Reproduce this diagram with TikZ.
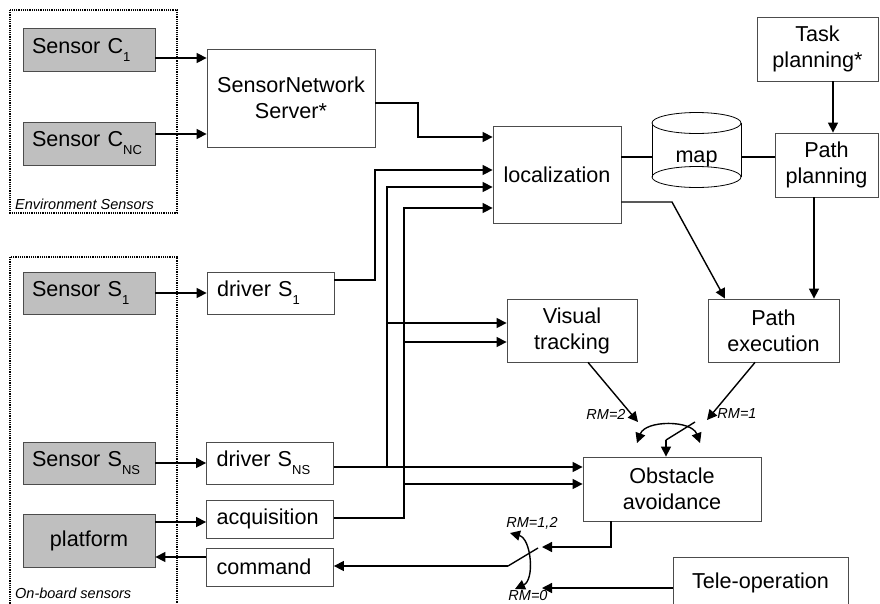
\documentclass[tikz,border=0pt]{standalone}
\usepackage{fontspec}
\setmainfont{Liberation Sans}
\usetikzlibrary{arrows.meta, positioning, calc}

\newcommand{\sidx}[1]{\raisebox{-8pt}{\fontsize{13}{13}\selectfont #1}}

\begin{document}
\begin{tikzpicture}[x=1pt, y=-1pt, font=\fontsize{21.6}{26}\selectfont,
    gbox/.style={draw=black!70, line width=0.8pt, fill=black!25, minimum height=43pt, text width=114pt, inner xsep=9pt, align=left},
    wbox/.style={draw=black!70, line width=0.8pt, fill=white, inner sep=0pt, align=center},
    drv/.style={wbox, text width=107pt, inner xsep=10pt, align=left, minimum height=42pt},
    grp/.style={densely dotted, line width=1.2pt},
    lbl/.style={font=\fontsize{14.5}{16}\selectfont\itshape, inner sep=1pt},
    conn/.style={line width=1.4pt},
    arr/.style={conn, -{Triangle[length=10pt, width=10pt]}},
    barr/.style={conn, {Triangle[length=10pt, width=10pt]}-{Triangle[length=10pt, width=10pt]}}]
    \useasboundingbox (0,0) rectangle (880,603);

    % sensor groups
    \draw[grp] (10,10) rectangle (177,213);
    \node[lbl, anchor=west] (envlbl) at (14,204) {Environment Sensors};
    \draw[grp] (10,257) rectangle (177,640);
    \node[lbl, anchor=west] (onblbl) at (14,593) {On-board sensors};

    \node[gbox] (c1) at (89,49.5) {Sensor C\sidx{1}};
    \node[gbox] (cnc) at (89,143.5) {Sensor C\sidx{NC}};
    \node[gbox, minimum height=42pt] (s1) at (89,293) {Sensor S\sidx{1}};
    \node[gbox, minimum height=42pt] (sn) at (89,463) {Sensor S\sidx{NS}};
    \node[gbox, align=center, minimum height=53pt] (plat) at (89,540.5) {platform};

    \node[wbox, minimum width=168pt, minimum height=98pt] (sns) at (291,98) {SensorNetwork\\Server*};
    \node[drv] (d1) at (270.5,293) {driver S\sidx{1}};
    \node[drv] (dn) at (270,463) {driver S\sidx{NS}};
    \node[drv, minimum height=38pt] (acq) at (270,519) {acquisition};
    \node[drv, minimum height=38pt] (cmd) at (270,567) {command};

    \node[wbox, minimum width=128pt, minimum height=97pt] (loc) at (557,174.5) {localization};
    \node[wbox, minimum width=121pt, minimum height=64pt] (tp) at (817.5,49) {Task\\planning*};
    \node[wbox, minimum width=103pt, minimum height=64pt] (pp) at (826.5,165) {Path\\planning};
    \node[wbox, minimum width=130pt, minimum height=63pt] (vt) at (572,330.5) {Visual\\tracking};
    \node[wbox, minimum width=131pt, minimum height=63pt] (pe) at (773.5,330.5) {Path\\execution};
    \node[wbox, minimum width=178pt, minimum height=64pt] (oa) at (672,489) {Obstacle\\avoidance};
    \node[wbox, minimum width=175pt, minimum height=52pt] (tel) at (760.5,583) {Tele-operation};

    % map store
    \draw[line width=0.8pt] (652,123) -- (652,177) (741,123) -- (741,177);
    \draw[line width=0.8pt, fill=white] (696.5,123) ellipse [x radius=44.5, y radius=10.5];
    \draw[line width=0.8pt] (696.5,177) ellipse [x radius=44.5, y radius=10.5];
    \node[minimum width=89pt, minimum height=64pt, inner sep=0pt] (map) at (696.5,159) {map};

    % junctions and switches
    \coordinate (jn) at (387,467);
    \coordinate (ja) at (404,518);
    \coordinate (rm2) at (638,422);
    \coordinate (rm1) at (707,420);
    \coordinate (sw) at (666,440);
    \coordinate (swb) at (508,566);
    \coordinate (rmin) at (542,547);
    \coordinate (rmtel) at (542,588);

    \draw[arr] (c1.east |- 0,58) -- (sns.west |- 0,58);
    \draw[arr] (cnc.east |- 0,134) -- (sns.west |- 0,134);
    \draw[arr] (sns.east |- 0,103) -| (418,137) -- (loc.west |- 0,137);
    \draw[arr] (s1) -- (d1);
    \draw[arr] (sn.east |- 0,463) -- (dn.west |- 0,463);
    \draw[arr] (plat.east |- 0,522) -- (acq.west |- 0,522);
    \draw[arr] (cmd.west |- 0,557) -- (plat.east |- 0,557);

    \draw[arr] (d1.east |- 0,280) -| (375,170) -- (loc.west |- 0,170);
    \draw[arr] (dn.east |- jn) -- (oa.west |- jn);
    \draw[arr] (jn) |- (loc.west |- 0,187);
    \draw[arr] (jn |- 0,323) -- (vt.west |- 0,323);
    \draw[arr] (acq.east |- ja) -| (404,208) -- (loc.west |- 0,208);
    \draw[arr] (ja |- 0,342) -- (vt.west |- 0,342);
    \draw[arr] (ja |- 0,484) -- (oa.west |- 0,484);

    \draw[conn] (loc.east |- 0,157) -- (map.west |- 0,157);
    \draw[conn] (map.east |- 0,157) -- (pp.west |- 0,157);
    \draw[arr] (loc.east |- 0,202) -- (672,202) -- (pe.north -| 725,0);
    \draw[arr] (pp.south -| 814,0) -- (pe.north -| 814,0);
    \draw[arr] (tp.south -| 833,0) -- (pp.north -| 833,0);

    \draw[arr] (vt.south -| 588,0) -- (rm2);
    \draw[arr] (pe.south -| 755,0) -- (rm1);
    \node[lbl] (rm2lbl) at (606,414) {RM=2};
    \node[lbl] (rm1lbl) at (737,414) {RM=1};
    \draw[conn] (695,422) -- (sw);
    \draw[arr] (sw) -- (oa.north -| sw);
    \draw[barr] (637,443) to[bend left=70] (700,443);

    \draw[arr] (oa.south -| 611,0) |- (rmin);
    \draw[arr] (tel.west |- rmtel) -- (rmtel);
    \draw[conn] (538,548) -- (swb);
    \draw[arr] (swb) -- (cmd.east |- swb);
    \draw[barr] (510,533) to[bend left=70] (515,589);
    \node[lbl] (rm12lbl) at (532,523) {RM=1,2};
    \node[lbl] (rm0lbl) at (528,595) {RM=0};
\end{tikzpicture}
\end{document}
